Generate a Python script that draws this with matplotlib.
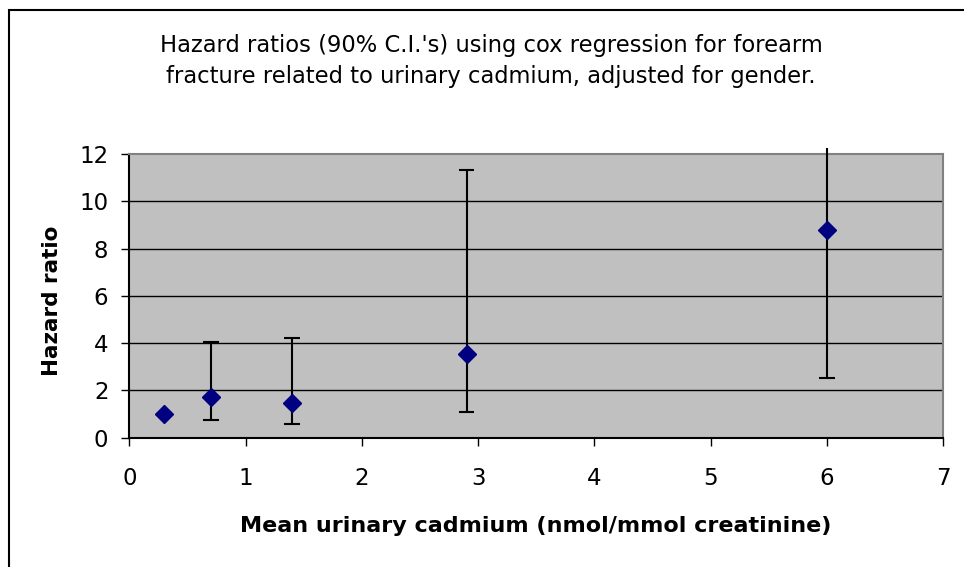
import matplotlib
matplotlib.use("Agg")
import matplotlib.pyplot as plt
from matplotlib.patches import Rectangle
import numpy as np

plt.rcParams['font.family'] = ['DejaVu Sans']

# Data
cadmium = [0.3, 0.7, 1.4, 2.9, 6.0]
hazard_ratio = [1.0, 1.73, 1.48, 3.53, 8.77]
ci_lower = [1.0, 0.74, 0.57, 1.07, 2.51]
ci_upper = [1.0, 4.05, 4.2, 11.32, 12.25]

title_lines = ["Hazard ratios (90% C.I.'s) using cox regression for forearm",
               "fracture related to urinary cadmium, adjusted for gender."]
xlabel = "Mean urinary cadmium (nmol/mmol creatinine)"
ylabel = "Hazard ratio"
xticks = [0, 1, 2, 3, 4, 5, 6, 7]
yticks = [0, 2, 4, 6, 8, 10, 12]

W, H = 964, 567
fig = plt.figure(figsize=(W / 100, H / 100), dpi=100)
fig.patch.set_facecolor('white')

# outer frame (right and bottom edges fall outside the image)
fig.patches.append(Rectangle((9 / W, -1.0), 3.0, 2.0 - 10 / H,
                             transform=fig.transFigure, fill=False,
                             edgecolor='black', linewidth=1.5))

l, r, b, t = 129.3, 943.3, 437.7, 154.0
ax = fig.add_axes([l / W, 1 - b / H, (r - l) / W, (b - t) / H])
ax.set_facecolor('#C0C0C0')
ax.set_xlim(0, 7)
ax.set_ylim(0, 12)
ax.set_xticks(xticks)
ax.set_yticks(yticks)
ax.tick_params(direction='out', length=6, width=1, colors='black',
               labelsize=16.5)
ax.tick_params(axis='x', pad=15)
ax.tick_params(axis='y', pad=9)
for y in yticks[1:-1]:
    ax.axhline(y, color='black', linewidth=1, zorder=1)
ax.spines['left'].set_color('black')
ax.spines['bottom'].set_color('black')
ax.spines['top'].set_color('#808080')
ax.spines['right'].set_color('#808080')
for s in ax.spines.values():
    s.set_linewidth(1.5)

x = np.array(cadmium)
yv = np.array(hazard_ratio)
lo = np.array(ci_lower)
hi = np.array(ci_upper)
ymax = ax.get_ylim()[1]

# error bar stems
ax.vlines(x, lo, hi, colors='black', linewidth=1.5, zorder=3, clip_on=False)
# caps (upper caps only where inside the plot)
cap_half = 0.068
ax.hlines(lo, x - cap_half, x + cap_half, colors='black', linewidth=1.5, zorder=3)
inside = hi <= ymax
ax.hlines(hi[inside], x[inside] - cap_half, x[inside] + cap_half,
          colors='black', linewidth=1.5, zorder=3)

ax.plot(x, yv, linestyle='none', marker='D', markersize=9,
        color='#000080', zorder=4)

fig.text(491 / W, 1 - 52 / H, title_lines[0], ha='center', va='baseline',
         fontsize=16.3)
fig.text(491 / W, 1 - 83 / H, title_lines[1], ha='center', va='baseline',
         fontsize=16.3)
fig.text(536 / W, 1 - 532 / H, xlabel, ha='center', va='baseline',
         fontsize=16, fontweight='bold')
fig.text(52 / W, 1 - 301 / H, ylabel, ha='center', va='center',
         fontsize=15.5, fontweight='bold', rotation=90)

fig.savefig('out.png', dpi=100)
